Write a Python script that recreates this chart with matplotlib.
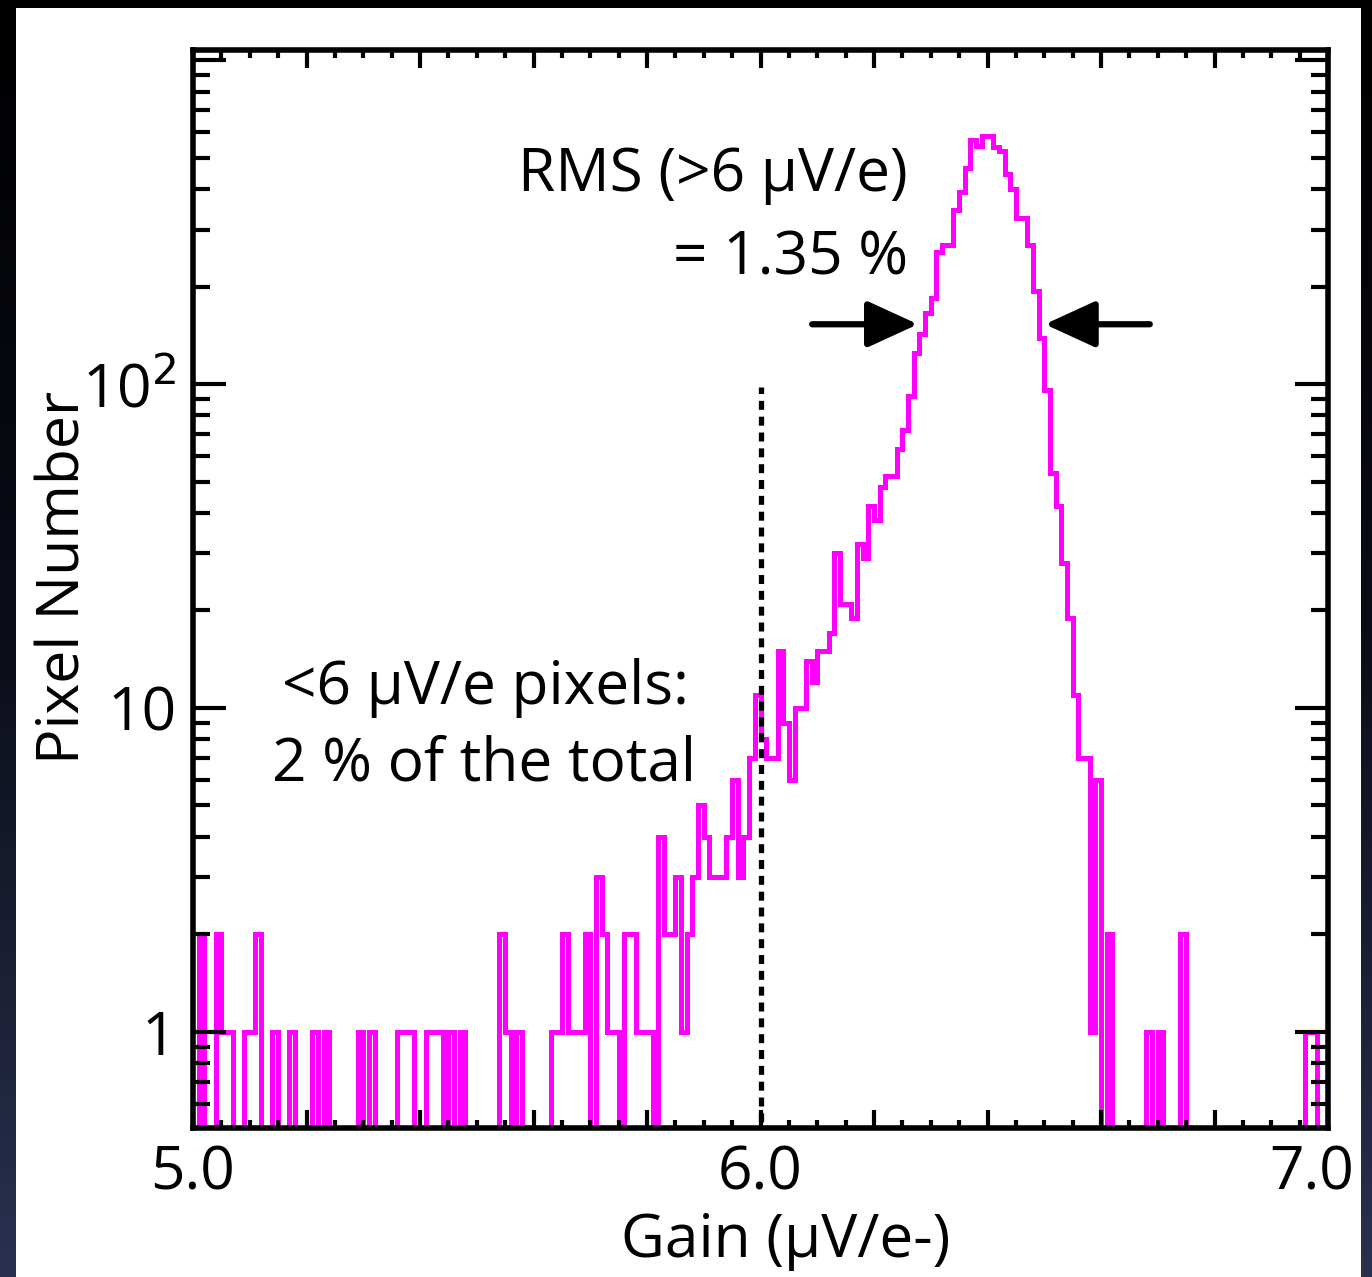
import numpy as np
import matplotlib
matplotlib.use('Agg')
import matplotlib.pyplot as plt
from matplotlib import transforms
from matplotlib.patches import Rectangle
from matplotlib.ticker import FixedLocator, LogLocator, NullFormatter, MultipleLocator

# pixel counts per gain bin (bins 0.01 wide, 5.00 -> 7.00)
gain_lo = 5.0
bin_width = 0.01
counts = np.array([
    0, 2, 0, 0, 2, 1, 1, 0, 0, 1, 1, 2, 0, 0, 1, 0, 0, 1, 0, 0,
    0, 1, 0, 1, 0, 0, 0, 0, 0, 1, 0, 1, 0, 0, 0, 0, 1, 1, 1, 0,
    0, 1, 1, 1, 0, 1, 0, 1, 0, 0, 0, 0, 0, 0, 2, 1, 0, 1, 0, 0,
    0, 0, 0, 1, 1, 2, 1, 1, 1, 2, 0, 3, 2, 1, 1, 0, 2, 2, 1, 1,
    1, 0, 4, 2, 2, 3, 1, 2, 3, 5, 4, 3, 3, 3, 4, 6, 3, 4, 7, 11,
    8, 7, 7, 15, 9, 6, 10, 10, 14, 12, 15, 15, 17, 30, 21, 21, 19, 32, 29, 42,
    38, 48, 52, 52, 63, 72, 92, 125, 143, 166, 185, 255, 268, 268, 344, 393, 465, 565, 545, 585,
    585, 540, 525, 445, 400, 325, 325, 268, 194, 139, 96, 53, 42, 28, 19, 11, 7, 7, 1, 6,
    0, 2, 0, 0, 0, 0, 0, 0, 1, 0, 1, 0, 0, 0, 2, 0, 0, 0, 0, 0,
    0, 0, 0, 0, 0, 0, 0, 0, 0, 0, 0, 0, 0, 0, 0, 0, 1, 1, 0, 0,
], dtype=float)

cut_gain = 6.0
ytick_vals = [1, 10, 100]
ytick_text = ['1', '10', '10$^2$']
xtick_vals = [5.0, 6.0, 7.0]
xtick_text = ['5.0', '6.0', '7.0']

edges = gain_lo + bin_width * np.arange(len(counts) + 1)

plt.rcParams['font.family'] = ['Open Sans', 'DejaVu Sans']
FS = 43.5

fig = plt.figure(figsize=(13.72, 12.77), dpi=100)

# slide background: dark gradient with a white card on top
bg = fig.add_axes([0, 0, 1, 1], zorder=-10)
grad = np.linspace(0, 1, 256).reshape(-1, 1)
bg.imshow(grad, aspect='auto', cmap=matplotlib.colors.LinearSegmentedColormap.from_list(
    'slide', ['#000000', '#0b0d18', '#2a3150']), extent=[0, 1, 0, 1], origin='upper')
bg.add_patch(Rectangle((16 / 1372, 0), (1361 - 16) / 1372, 1 - 8 / 1277,
                       facecolor='white', edgecolor='none'))
bg.set_xlim(0, 1)
bg.set_ylim(0, 1)
bg.axis('off')

ax = fig.add_axes([193 / 1372, 1 - 1128 / 1277, 1135 / 1372, 1078 / 1277])
ax.set_facecolor('white')

shown = np.where(counts > 0, counts, 0.05)  # empty bins drop below the axis
ax.stairs(shown, edges, baseline=None, color='#ff00ff', lw=3.6)

ax.plot([cut_gain, cut_gain], [0.3, 98], color='black', lw=3.8,
        linestyle=(0, (1.7, 1.3)))

ax.set_yscale('log')
ax.set_xlim(5.0, 7.0)
ax.set_ylim(0.505, 1075)

for s in ax.spines.values():
    s.set_linewidth(4.0)

ax.xaxis.set_major_locator(FixedLocator(np.arange(5.0, 7.01, 0.2)))
ax.xaxis.set_minor_locator(MultipleLocator(0.05))
ax.set_xticks(np.arange(5.0, 7.01, 0.2))
ax.set_xticklabels(['' for _ in np.arange(5.0, 7.01, 0.2)])
ax.yaxis.set_major_locator(LogLocator(base=10, numticks=10))
ax.yaxis.set_minor_locator(LogLocator(base=10, subs=np.arange(2, 10), numticks=20))
ax.yaxis.set_minor_formatter(NullFormatter())
ax.set_yticks(ytick_vals + [1000])
ax.set_yticklabels(ytick_text + [''])

ax.tick_params(which='both', direction='in', top=True, right=True, color='black')
ax.xaxis.set_tick_params(which='major', length=13, width=3)
ax.xaxis.set_tick_params(which='minor', length=6, width=3)
ax.yaxis.set_tick_params(which='major', length=24, width=3, pad=12, labelsize=FS)
ax.yaxis.set_tick_params(which='minor', length=12, width=3)

# x tick labels as text under the axis
for v, t in zip(xtick_vals, xtick_text):
    off = -16 / 100 if v == 7.0 else 0
    tr = ax.get_xaxis_transform() + transforms.ScaledTranslation(off, 0, fig.dpi_scale_trans)
    ax.text(v, -0.042, t, transform=tr, ha='center', va='center', fontsize=FS)

ax.set_xlabel('Gain (µV/e-)', fontsize=FS)
ax.xaxis.set_label_coords(0.522, -0.077)
ax.set_ylabel('Pixel Number', fontsize=42.5)
ax.yaxis.set_label_coords(-0.088, 0.511)

ax.text(0.630, 0.884, 'RMS (>6 µV/e)', transform=ax.transAxes, ha='right', va='center', fontsize=FS)
ax.text(0.630, 0.807, '= 1.35 %', transform=ax.transAxes, ha='right', va='center', fontsize=FS)
ax.text(0.258, 0.408, '<6 µV/e pixels:', transform=ax.transAxes, ha='center', va='center', fontsize=FS)
ax.text(0.256, 0.337, '2 % of the total', transform=ax.transAxes, ha='center', va='center', fontsize=FS)

arrow = dict(arrowstyle='-|>,head_length=1.2,head_width=0.55', color='black', lw=4.5,
             mutation_scale=26, shrinkA=0, shrinkB=0)
ax.annotate('', xy=(6.2775, 153), xytext=(6.091, 153), arrowprops=arrow)
ax.annotate('', xy=(6.501, 153), xytext=(6.686, 153), arrowprops=arrow)

fig.savefig('out.png', dpi=100, facecolor=fig.get_facecolor())
